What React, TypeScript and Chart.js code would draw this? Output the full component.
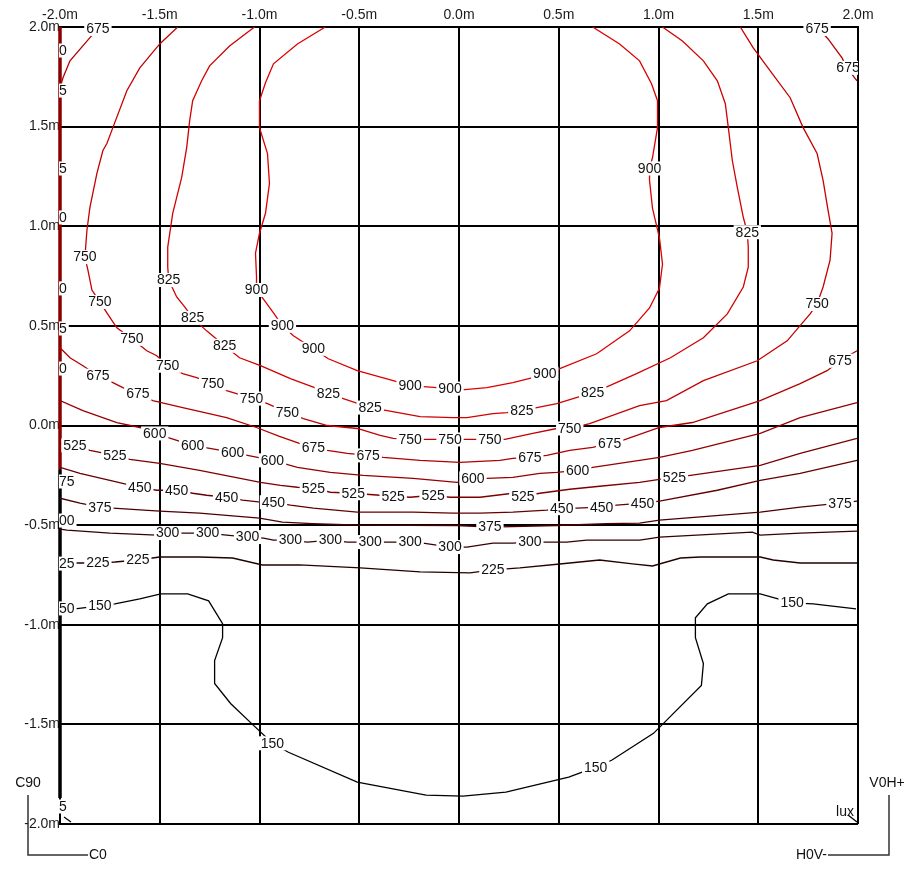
import React, { useEffect, useRef } from "react";
import { Chart, registerables } from "chart.js";

Chart.register(...registerables);

type P = [number, number];

// axis ticks (metres)
const AXIS_MIN = -2;
const AXIS_MAX = 2;
const TICK_STEP = 0.5;

// contour levels (lux)
const LEVELS = [900, 825, 750, 675, 600, 525, 450, 375, 300, 225, 150];
const LEVEL_COLORS = ["#dd0000", "#d20000", "#c40000", "#b20000", "#960000", "#7d0000", "#640000", "#4c0000", "#360000", "#240000", "#000000"];

const c900: P[] = [[-0.67,2.0],[-0.81,1.915],[-0.93,1.815],[-0.97,1.72],[-1.0,1.63],[-1.0,1.495],[-0.96,1.365],[-0.95,1.215],[-0.97,1.065],[-1.0,0.965],[-1.02,0.865],[-1.015,0.745],[-1.015,0.68],[-0.97,0.62],[-0.93,0.565],[-0.885,0.5],[-0.83,0.45],[-0.73,0.385],[-0.655,0.335],[-0.51,0.275],[-0.33,0.225],[-0.245,0.2],[-0.045,0.185],[0.03,0.18],[0.14,0.19],[0.27,0.215],[0.37,0.24],[0.43,0.26],[0.505,0.285],[0.69,0.36],[0.855,0.475],[0.955,0.59],[1.005,0.69],[1.02,0.81],[1.005,0.94],[0.97,1.09],[0.955,1.23],[0.955,1.29],[0.97,1.345],[0.995,1.495],[0.995,1.63],[0.965,1.715],[0.905,1.83],[0.805,1.915],[0.67,2.0]];
const c900Labels: P[] = [[-1.015,0.68],[-0.885,0.5],[-0.73,0.385],[-0.245,0.2],[-0.045,0.185],[0.43,0.26],[0.955,1.29]];

const c825: P[] = [[-1.025,2.0],[-1.15,1.905],[-1.25,1.805],[-1.29,1.73],[-1.335,1.63],[-1.35,1.53],[-1.365,1.395],[-1.39,1.245],[-1.435,1.065],[-1.46,0.895],[-1.46,0.795],[-1.455,0.73],[-1.415,0.645],[-1.375,0.595],[-1.335,0.54],[-1.265,0.475],[-1.175,0.4],[-1.1,0.34],[-0.995,0.3],[-0.845,0.235],[-0.71,0.185],[-0.655,0.16],[-0.445,0.09],[-0.36,0.075],[-0.195,0.045],[-0.03,0.04],[0.04,0.04],[0.17,0.06],[0.24,0.065],[0.315,0.075],[0.39,0.09],[0.49,0.11],[0.67,0.165],[0.755,0.2],[0.89,0.26],[1.06,0.34],[1.225,0.44],[1.345,0.56],[1.425,0.695],[1.45,0.795],[1.45,0.895],[1.445,0.97],[1.425,1.045],[1.395,1.195],[1.37,1.33],[1.35,1.495],[1.335,1.615],[1.295,1.73],[1.225,1.83],[1.12,1.93],[1.02,2.0]];
const c825Labels: P[] = [[-1.455,0.73],[-1.335,0.54],[-1.175,0.4],[-0.655,0.16],[-0.445,0.09],[0.315,0.075],[0.67,0.165],[1.445,0.97]];

const c750: P[] = [[-1.41,2.0],[-1.5,1.915],[-1.6,1.795],[-1.665,1.68],[-1.735,1.495],[-1.765,1.415],[-1.785,1.38],[-1.815,1.265],[-1.85,1.095],[-1.865,0.98],[-1.87,0.915],[-1.875,0.845],[-1.86,0.78],[-1.84,0.68],[-1.8,0.62],[-1.765,0.565],[-1.715,0.49],[-1.64,0.435],[-1.565,0.375],[-1.515,0.35],[-1.46,0.3],[-1.385,0.26],[-1.315,0.24],[-1.235,0.21],[-1.165,0.175],[-1.115,0.16],[-1.04,0.135],[-0.96,0.11],[-0.86,0.065],[-0.78,0.035],[-0.66,0.0],[-0.51,-0.015],[-0.395,-0.05],[-0.33,-0.065],[-0.245,-0.07],[-0.045,-0.07],[0.155,-0.07],[0.23,-0.07],[0.37,-0.04],[0.49,-0.015],[0.555,-0.015],[0.655,0.01],[0.905,0.1],[1.04,0.125],[1.225,0.225],[1.495,0.325],[1.645,0.425],[1.76,0.56],[1.795,0.61],[1.825,0.695],[1.86,0.83],[1.87,0.965],[1.85,1.08],[1.825,1.23],[1.795,1.365],[1.725,1.495],[1.66,1.645],[1.56,1.78],[1.475,1.895],[1.41,2.0]];
const c750Labels: P[] = [[-1.875,0.845],[-1.8,0.62],[-1.64,0.435],[-1.46,0.3],[-1.235,0.21],[-1.04,0.135],[-0.86,0.065],[-0.245,-0.07],[-0.045,-0.07],[0.155,-0.07],[0.555,-0.015],[1.795,0.61]];

const c675: P[] = [[-2.0,0.39],[-1.95,0.34],[-1.885,0.3],[-1.81,0.25],[-1.735,0.215],[-1.685,0.19],[-1.61,0.16],[-1.535,0.125],[-1.385,0.09],[-1.165,0.04],[-1.015,-0.01],[-0.9,-0.055],[-0.8,-0.09],[-0.73,-0.11],[-0.66,-0.125],[-0.56,-0.14],[-0.455,-0.15],[-0.38,-0.16],[-0.195,-0.175],[0.005,-0.185],[0.205,-0.175],[0.27,-0.165],[0.355,-0.16],[0.44,-0.15],[0.555,-0.125],[0.67,-0.11],[0.755,-0.09],[0.82,-0.075],[1.005,-0.01],[1.17,0.015],[1.51,0.125],[1.71,0.21],[1.845,0.275],[1.91,0.325],[1.995,0.375]];
const c675Labels: P[] = [[-1.81,0.25],[-1.61,0.16],[-0.73,-0.11],[-0.455,-0.15],[0.355,-0.16],[0.755,-0.09],[1.91,0.325]];
const c675TopLeft: P[] = [[-1.8,2.0],[-1.85,1.947],[-1.95,1.83],[-1.985,1.745],[-2.0,1.695]];
const c675TopRight: P[] = [[1.795,2.0],[1.85,1.94],[1.92,1.845],[1.945,1.795],[1.995,1.73]];
const c675CornerLabels: P[] = [[-1.81,1.99],[1.795,1.99],[1.95,1.795]];

const c600: P[] = [[-2.0,0.125],[-1.885,0.075],[-1.715,0.015],[-1.6,-0.01],[-1.525,-0.04],[-1.335,-0.1],[-1.135,-0.135],[-0.935,-0.175],[-0.81,-0.21],[-0.645,-0.235],[-0.48,-0.25],[-0.23,-0.265],[-0.01,-0.285],[0.07,-0.265],[0.14,-0.265],[0.27,-0.26],[0.405,-0.24],[0.49,-0.235],[0.595,-0.225],[0.67,-0.21],[0.905,-0.175],[1.005,-0.16],[1.17,-0.125],[1.51,-0.04],[1.71,0.04],[1.995,0.115]];
const c600Labels: P[] = [[-1.525,-0.04],[-1.335,-0.1],[-1.135,-0.135],[-0.935,-0.175],[0.07,-0.265],[0.595,-0.225]];

const c525: P[] = [[-2.0,-0.09],[-1.925,-0.1],[-1.85,-0.125],[-1.8,-0.135],[-1.725,-0.15],[-1.65,-0.17],[-1.5,-0.19],[-1.3,-0.225],[-0.995,-0.285],[-0.895,-0.3],[-0.81,-0.31],[-0.73,-0.315],[-0.645,-0.335],[-0.53,-0.34],[-0.33,-0.355],[-0.245,-0.36],[-0.13,-0.35],[-0.045,-0.36],[0.105,-0.36],[0.27,-0.34],[0.32,-0.355],[0.405,-0.34],[0.555,-0.32],[0.705,-0.305],[0.905,-0.285],[1.005,-0.27],[1.08,-0.26],[1.16,-0.25],[1.51,-0.2],[1.71,-0.14],[1.995,-0.065]];
const c525Labels: P[] = [[-1.925,-0.1],[-1.725,-0.15],[-0.73,-0.315],[-0.53,-0.34],[-0.33,-0.355],[-0.13,-0.35],[0.32,-0.355],[1.08,-0.26]];

const c450: P[] = [[-2.0,-0.21],[-1.9,-0.24],[-1.75,-0.275],[-1.6,-0.31],[-1.515,-0.325],[-1.415,-0.325],[-1.335,-0.34],[-1.265,-0.35],[-1.165,-0.36],[-1.085,-0.375],[-0.995,-0.385],[-0.93,-0.385],[-0.845,-0.4],[-0.73,-0.415],[-0.51,-0.435],[-0.23,-0.435],[-0.03,-0.44],[0.105,-0.44],[0.27,-0.435],[0.44,-0.425],[0.515,-0.415],[0.59,-0.415],[0.715,-0.41],[0.79,-0.4],[0.92,-0.39],[1.005,-0.38],[1.295,-0.325],[1.51,-0.275],[1.71,-0.24],[1.995,-0.175]];
const c450Labels: P[] = [[-1.6,-0.31],[-1.415,-0.325],[-1.165,-0.36],[-0.93,-0.385],[0.515,-0.415],[0.715,-0.41],[0.92,-0.39]];

const c375: P[] = [[-2.0,-0.365],[-1.9,-0.39],[-1.8,-0.41],[-1.735,-0.415],[-1.5,-0.43],[-1.3,-0.44],[-1.0,-0.465],[-0.885,-0.485],[-0.735,-0.492],[-0.495,-0.5],[-0.01,-0.502],[0.155,-0.51],[0.49,-0.502],[0.74,-0.492],[0.905,-0.49],[1.005,-0.475],[1.51,-0.435],[1.71,-0.41],[1.91,-0.39],[1.995,-0.38]];
const c375Labels: P[] = [[-1.8,-0.41],[0.155,-0.51],[1.91,-0.39]];

const c300: P[] = [[-2.0,-0.52],[-1.965,-0.525],[-1.75,-0.54],[-1.515,-0.55],[-1.46,-0.54],[-1.365,-0.54],[-1.26,-0.54],[-1.165,-0.55],[-1.06,-0.56],[-0.98,-0.565],[-0.93,-0.575],[-0.845,-0.575],[-0.76,-0.585],[-0.645,-0.575],[-0.56,-0.585],[-0.445,-0.585],[-0.36,-0.585],[-0.245,-0.585],[-0.18,-0.59],[-0.045,-0.61],[0.04,-0.61],[0.17,-0.59],[0.27,-0.59],[0.355,-0.585],[0.44,-0.585],[0.54,-0.585],[0.64,-0.575],[0.905,-0.575],[0.94,-0.57],[1.005,-0.56],[1.47,-0.535],[1.51,-0.55],[1.71,-0.54],[1.995,-0.53]];
const c300Labels: P[] = [[-1.46,-0.54],[-1.26,-0.54],[-1.06,-0.56],[-0.845,-0.575],[-0.645,-0.575],[-0.445,-0.585],[-0.245,-0.585],[-0.045,-0.61],[0.355,-0.585]];

const c225: P[] = [[-2.0,-0.69],[-1.925,-0.69],[-1.81,-0.69],[-1.725,-0.685],[-1.61,-0.675],[-1.5,-0.66],[-1.3,-0.66],[-1.135,-0.665],[-0.985,-0.7],[-0.8,-0.7],[-0.495,-0.715],[-0.195,-0.735],[0.055,-0.74],[0.17,-0.725],[0.305,-0.715],[0.505,-0.695],[0.705,-0.675],[0.87,-0.695],[0.97,-0.705],[1.11,-0.665],[1.21,-0.66],[1.51,-0.66],[1.575,-0.675],[1.71,-0.69],[1.995,-0.69]];
const c225Labels: P[] = [[-1.81,-0.69],[-1.61,-0.675],[0.17,-0.725]];

const c150: P[] = [[-2.0,-0.92],[-1.925,-0.92],[-1.8,-0.905],[-1.725,-0.895],[-1.6,-0.87],[-1.495,-0.845],[-1.36,-0.845],[-1.255,-0.88],[-1.185,-0.995],[-1.185,-1.065],[-1.225,-1.18],[-1.225,-1.295],[-1.145,-1.395],[-1.03,-1.505],[-0.935,-1.595],[-0.855,-1.64],[-0.51,-1.79],[-0.165,-1.855],[0.02,-1.86],[0.235,-1.84],[0.55,-1.765],[0.685,-1.715],[0.765,-1.68],[0.975,-1.545],[1.015,-1.505],[1.215,-1.305],[1.225,-1.195],[1.185,-1.065],[1.185,-0.965],[1.245,-0.895],[1.35,-0.845],[1.51,-0.845],[1.67,-0.89],[1.775,-0.895],[1.99,-0.92]];
const c150Labels: P[] = [[-1.8,-0.905],[-0.935,-1.595],[0.685,-1.715],[1.67,-0.89]];

// small corner contours
const cornerBottomLeft: P[] = [[-1.98,-1.965],[-1.945,-1.99]];
const cornerBottomRight: P[] = [[1.95,-1.955],[1.995,-1.99]];
const luxLabel: P = [1.935, -1.94];

// contours running along the left border
const edgeRed: P[] = [[-2.0,2.0],[-2.0,-0.22]];
const edgeDark: P[] = [[-2.0,-0.22],[-2.0,-1.87]];

// clipped label fragments on the left border
const edgeLabelY = [1.882, 1.681, 1.29, 1.044, 0.688, 0.487, 0.286, -0.281, -0.477, -0.693, -0.918, -1.912];
const edgeLabelText = ["0", "5", "5", "0", "0", "5", "0", "75", "00", "25", "50", "5"];

const FONT = '"Liberation Sans", Arial, sans-serif';
const FS = 14;

const LINES: { level: number; pts: P[] }[] = [
  { level: 900, pts: c900 },
  { level: 825, pts: c825 },
  { level: 750, pts: c750 },
  { level: 675, pts: c675 },
  { level: 675, pts: c675TopLeft },
  { level: 675, pts: c675TopRight },
  { level: 600, pts: c600 },
  { level: 525, pts: c525 },
  { level: 450, pts: c450 },
  { level: 375, pts: c375 },
  { level: 300, pts: c300 },
  { level: 225, pts: c225 },
  { level: 150, pts: c150 },
];
const LABELS: { level: number; pts: P[] }[] = [
  { level: 900, pts: c900Labels },
  { level: 825, pts: c825Labels },
  { level: 750, pts: c750Labels },
  { level: 675, pts: c675Labels },
  { level: 675, pts: c675CornerLabels },
  { level: 600, pts: c600Labels },
  { level: 525, pts: c525Labels },
  { level: 450, pts: c450Labels },
  { level: 375, pts: c375Labels },
  { level: 300, pts: c300Labels },
  { level: 225, pts: c225Labels },
  { level: 150, pts: c150Labels },
];

const colorOf = (lv: number) => LEVEL_COLORS[LEVELS.indexOf(lv)];
const toXY = (pts: P[]) => pts.map(([x, y]) => ({ x, y }));

const labelPlugin = {
  id: "contourLabels",
  afterDatasetsDraw(chart: any) {
    const { ctx, chartArea: a, scales } = chart;
    const xs = scales.x, ys = scales.y;
    ctx.save();
    ctx.beginPath();
    ctx.rect(a.left, a.top - 10, a.right - a.left, a.bottom - a.top + 12);
    ctx.clip();
    ctx.font = `${FS}px ${FONT}`;
    ctx.textAlign = "center";
    ctx.textBaseline = "middle";
    for (const L of LABELS) {
      const t = String(L.level);
      const w = ctx.measureText(t).width;
      for (const [lx, ly] of L.pts) {
        const px = xs.getPixelForValue(lx);
        const py = ys.getPixelForValue(ly);
        ctx.fillStyle = "#ffffff";
        ctx.fillRect(px - w / 2 - 2, py - 7, w + 4, 14);
        ctx.fillStyle = "#111111";
        ctx.fillText(t, px, py + 0.5);
      }
    }
    // lux
    ctx.fillStyle = "#111111";
    ctx.fillText("lux", xs.getPixelForValue(luxLabel[0]), ys.getPixelForValue(luxLabel[1]));
    ctx.restore();

    // fragments on left border
    ctx.save();
    ctx.font = `${FS}px ${FONT}`;
    ctx.textAlign = "left";
    ctx.textBaseline = "middle";
    const ex = xs.getPixelForValue(AXIS_MIN) - 1;
    edgeLabelY.forEach((ly, i) => {
      const py = ys.getPixelForValue(ly);
      const t = edgeLabelText[i];
      const w = ctx.measureText(t).width;
      ctx.fillStyle = "#ffffff";
      ctx.fillRect(ex, py - 7, w + 2, 14);
      ctx.fillStyle = "#111111";
      ctx.fillText(t, ex, py + 0.5);
    });
    ctx.restore();
  },
  afterDraw(chart: any) {
    const { ctx, chartArea: a } = chart;
    ctx.save();
    ctx.strokeStyle = "#333333";
    ctx.lineWidth = 1.5;
    ctx.font = `${FS}px ${FONT}`;
    ctx.fillStyle = "#111111";
    ctx.textBaseline = "middle";
    // left-bottom orientation marker
    ctx.beginPath();
    ctx.moveTo(a.left - 32, a.bottom - 29);
    ctx.lineTo(a.left - 32, a.bottom + 31);
    ctx.lineTo(a.left + 28, a.bottom + 31);
    ctx.stroke();
    ctx.textAlign = "center";
    ctx.fillText("C90", a.left - 32, a.bottom - 41);
    ctx.textAlign = "left";
    ctx.fillText("C0", a.left + 29, a.bottom + 31);
    // right-bottom orientation marker
    ctx.beginPath();
    ctx.moveTo(a.right + 31, a.bottom - 29);
    ctx.lineTo(a.right + 31, a.bottom + 31);
    ctx.lineTo(a.right - 30, a.bottom + 31);
    ctx.stroke();
    ctx.textAlign = "center";
    ctx.fillText("V0H+", a.right + 29, a.bottom - 41);
    ctx.textAlign = "right";
    ctx.fillText("H0V-", a.right - 31, a.bottom + 31);
    ctx.restore();
  },
};

export default function App() {
  const ref = useRef<HTMLCanvasElement | null>(null);
  useEffect(() => {
    if (!ref.current) return;
    const datasets: any[] = [
      ...LINES.map((L) => ({
        data: toXY(L.pts),
        borderColor: colorOf(L.level),
        borderWidth: 1.3,
        showLine: true,
        pointRadius: 0,
        tension: 0,
      })),
      { data: toXY(cornerBottomLeft), borderColor: "#000", borderWidth: 1.3, showLine: true, pointRadius: 0 },
      { data: toXY(cornerBottomRight), borderColor: "#000", borderWidth: 1.3, showLine: true, pointRadius: 0 },
      { data: toXY(edgeRed), borderColor: "#8a0000", borderWidth: 3.5, showLine: true, pointRadius: 0, clip: 4 },
      { data: toXY(edgeDark), borderColor: "#000000", borderWidth: 3.5, showLine: true, pointRadius: 0, clip: 4 },
    ];
    const tickFont = { family: FONT, size: FS };
    const fmt = (v: any) => Number(v).toFixed(1) + "m";
    const chart = new Chart(ref.current, {
      type: "scatter",
      data: { datasets },
      plugins: [labelPlugin],
      options: {
        animation: false,
        responsive: false,
        events: [],
        layout: { padding: { left: 8, top: 0, right: 55, bottom: 50 } },
        plugins: { legend: { display: false }, tooltip: { enabled: false } },
        scales: {
          x: {
            type: "linear",
            position: "top",
            min: AXIS_MIN,
            max: AXIS_MAX,
            afterFit: (s: any) => { s.height = 27; },
            ticks: { stepSize: TICK_STEP, callback: fmt, font: tickFont, color: "#1a1a1a", padding: 3, autoSkip: false, maxRotation: 0 },
            grid: { color: "#000000", lineWidth: 2, drawTicks: false },
            border: { color: "#000000", width: 2 },
          },
          y: {
            type: "linear",
            position: "left",
            min: AXIS_MIN,
            max: AXIS_MAX,
            afterFit: (s: any) => { s.width = 52; },
            ticks: { stepSize: TICK_STEP, callback: fmt, font: tickFont, color: "#1a1a1a", padding: 0, autoSkip: false },
            grid: { color: "#000000", lineWidth: 2, drawTicks: false },
            border: { color: "#000000", width: 2 },
          },
        },
      } as any,
    });
    return () => chart.destroy();
  }, []);
  return (
    <div style={{ position: "fixed", left: 0, top: 0, width: 913, height: 874, background: "#fff" }}>
      <canvas ref={ref} width={913} height={874} style={{ display: "block" }} />
    </div>
  );
}
